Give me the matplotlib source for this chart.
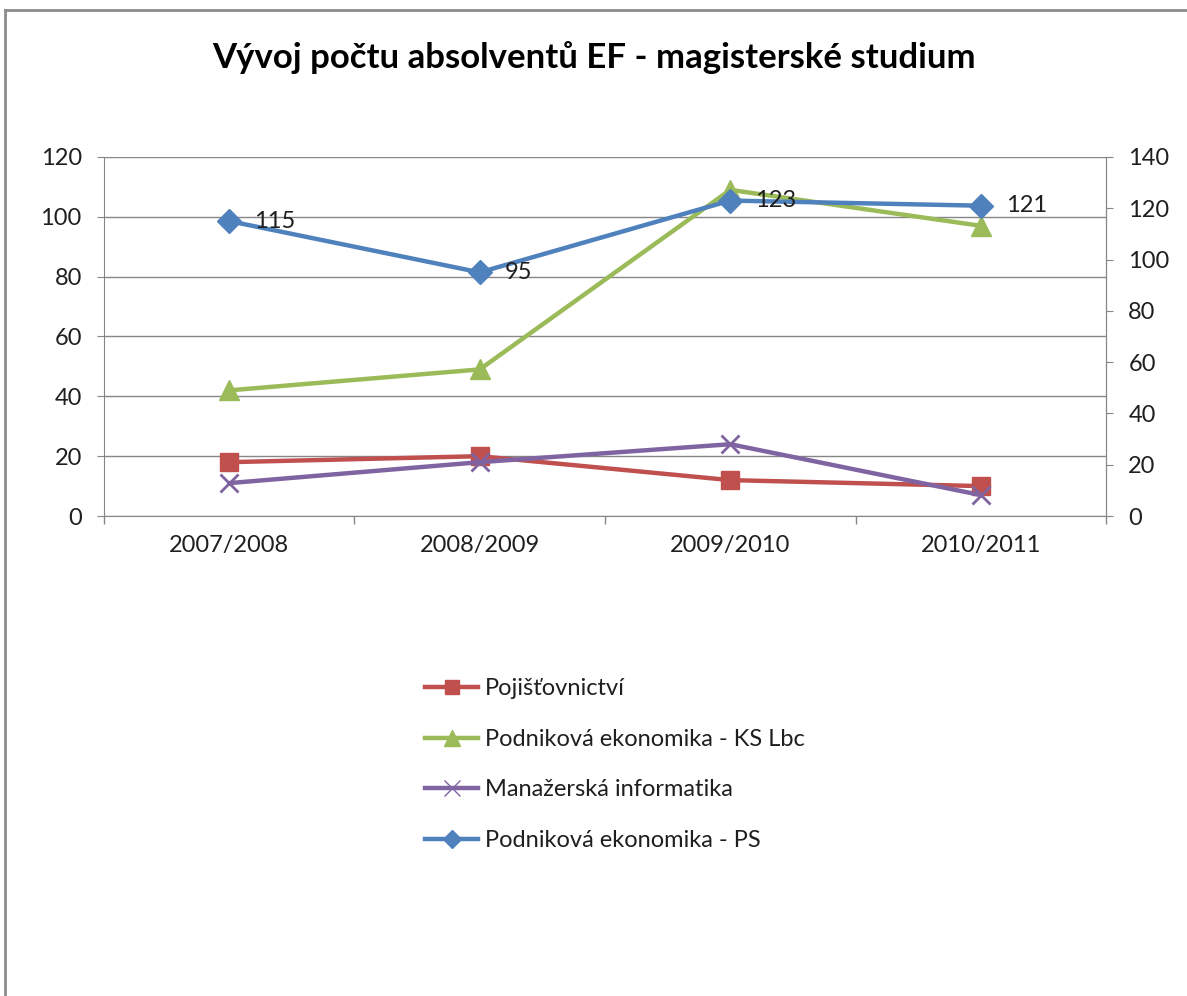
import matplotlib.pyplot as plt
from matplotlib.lines import Line2D

plt.rcParams['font.family'] = ['Lato', 'DejaVu Sans']

# Data
roky = ['2007/2008', '2008/2009', '2009/2010', '2010/2011']
pojistovnictvi = [18, 20, 12, 10]
pe_ks_lbc = [42, 49, 109, 97]
manazerska_inf = [11, 18, 24, 7]
pe_ps = [115, 95, 123, 121]  # secondary axis

nazvy = ['Pojišťovnictví', 'Podniková ekonomika - KS Lbc',
         'Manažerská informatika', 'Podniková ekonomika - PS']
barvy = ['#C0504D', '#9BBB59', '#8064A2', '#4F81BD']
FS = 17
TXT = '#1f1f1f'

fig = plt.figure(figsize=(11.87, 9.96), dpi=100)
ax = fig.add_axes([0.0876, 0.4819, 0.8442, 0.3605])
ax2 = ax.twinx()

x = list(range(len(roky)))
ax.plot(x, pojistovnictvi, color=barvy[0], lw=3.2, marker='s', ms=13, zorder=3)
ax.plot(x, pe_ks_lbc, color=barvy[1], lw=3.2, marker='^', ms=14, zorder=3)
ax.plot(x, manazerska_inf, color=barvy[2], lw=3.2, marker='x', ms=13, mew=2, zorder=3)
ax2.plot(x, pe_ps, color=barvy[3], lw=3.2, marker='D', ms=12, zorder=3)
for xi, v in zip(x, pe_ps):
    ax2.annotate(str(v), (xi, v), xytext=(18, 0), textcoords='offset points',
                 va='center', ha='left', fontsize=FS, color=TXT)

ax.set_xlim(-0.5, 3.5)
ax.set_ylim(0, 120)
ax.set_yticks(range(0, 121, 20))
ax2.set_ylim(0, 140)
ax2.set_yticks(range(0, 141, 20))

ax.set_xticks([-0.5, 0.5, 1.5, 2.5, 3.5])
ax.set_xticklabels([])
ax.set_xticks(x, minor=True)
ax.set_xticklabels(roky, minor=True)
ax.tick_params(axis='x', which='major', length=6, color='#868686', width=1)
ax.tick_params(axis='x', which='minor', length=0, pad=14, labelsize=FS, labelcolor=TXT)
ax.tick_params(axis='y', length=5, color='#868686', pad=11, labelsize=FS, labelcolor=TXT)
ax2.tick_params(axis='y', length=5, color='#868686', pad=11, labelsize=FS, labelcolor=TXT)

ax.grid(axis='y', color='#868686', lw=1)
ax.set_axisbelow(True)
for a in (ax, ax2):
    a.spines['top'].set_visible(False)
    for s in ('left', 'right', 'bottom'):
        a.spines[s].set_color('#868686')
ax2.spines['left'].set_visible(False)
ax2.spines['bottom'].set_visible(False)

fig.text(0.5, 0.942, 'Vývoj počtu absolventů EF - magisterské studium',
         ha='center', va='center', fontsize=25, fontweight='bold')

markery = [('s', 10), ('^', 11), ('x', 11), ('D', 9)]
handles = [Line2D([], [], color=c, lw=3.2, marker=m, ms=s) for c, (m, s) in zip(barvy, markery)]
fig.legend(handles, nazvy, loc='upper left', bbox_to_anchor=(0.358, 0.319),
           frameon=False, fontsize=FS, handlelength=2.25, labelspacing=1.25,
           handletextpad=0.3, borderaxespad=0, borderpad=0, labelcolor=TXT)

# outer chart border (top and left visible in the screenshot)
fig.add_artist(Line2D([0.004, 1.0], [0.99, 0.99], color='#8c8c8c', lw=2))
fig.add_artist(Line2D([0.004, 0.004], [0.0, 0.99], color='#8c8c8c', lw=2))

fig.savefig('out.png', dpi=100)
